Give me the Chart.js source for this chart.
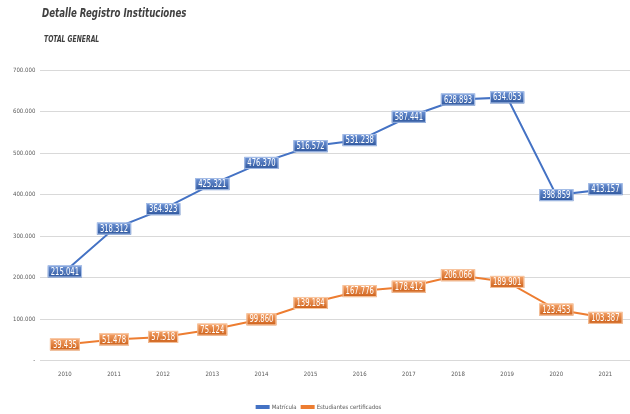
<!DOCTYPE html>
<html>
<head>
<meta charset="utf-8">
<script src="https://cdn.jsdelivr.net/npm/chart.js@4/dist/chart.umd.min.js"></script>
<style>
  html, body { margin: 0; padding: 0; background: #fff; }
  #wrap { width: 630px; height: 414px; position: relative; }
</style>
</head>
<body>
<div id="wrap"><canvas id="c"></canvas></div>
<script>
const years = ['2010','2011','2012','2013','2014','2015','2016','2017','2018','2019','2020','2021'];
const matricula = [215041, 318312, 364923, 425321, 476370, 516572, 531238, 587441, 628893, 634053, 398859, 413157];
const certificados = [39435, 51478, 57518, 75124, 99860, 139184, 167776, 178412, 206066, 189901, 123453, 103387];
const titleText = 'Detalle Registro Instituciones';
const subtitleText = 'TOTAL GENERAL';

const narrow = '"DejaVu Sans Condensed", "Liberation Sans Narrow", "Liberation Sans", sans-serif';

function fmt(v) {
  if (v === 0) return '-';
  return String(Math.round(v)).replace(/\B(?=(\d{3})+(?!\d))/g, '.');
}

// draw text squeezed horizontally (the original uses a narrow face)
function squeezed(ctx, txt, x, y, sx) {
  ctx.save();
  ctx.translate(x, y);
  ctx.scale(sx, 1);
  ctx.fillText(txt, 0, 0);
  ctx.restore();
}

// titles top-left
const titles = {
  id: 'titles',
  afterDraw(chart) {
    const ctx = chart.ctx;
    ctx.save();
    ctx.fillStyle = '#404040';
    ctx.textBaseline = 'middle';
    ctx.font = 'italic bold 12px ' + narrow;
    squeezed(ctx, titleText, 42, 14, 0.8);
    ctx.font = 'italic bold 9px ' + narrow;
    squeezed(ctx, subtitleText, 44, 40, 0.75);
    ctx.restore();
  }
};

// boxed data labels centred on each point
const boxLabels = {
  id: 'boxLabels',
  afterDatasetsDraw(chart) {
    const ctx = chart.ctx;
    const sx = 0.76;
    ctx.save();
    ctx.font = '10px ' + narrow;
    ctx.textAlign = 'center';
    ctx.textBaseline = 'middle';
    chart.data.datasets.forEach((ds, i) => {
      const meta = chart.getDatasetMeta(i);
      meta.data.forEach((pt, j) => {
        const txt = fmt(ds.data[j]);
        const w = ctx.measureText(txt).width * sx + 6;
        const h = 12;
        const x = pt.x - w / 2, y = pt.y - h / 2;
        const g = ctx.createLinearGradient(0, y, 0, y + h);
        g.addColorStop(0, ds.boxTop);
        g.addColorStop(1, ds.boxBottom);
        ctx.fillStyle = g;
        ctx.fillRect(x, y, w, h);
        ctx.strokeStyle = ds.boxEdge;
        ctx.lineWidth = 1;
        ctx.strokeRect(x + 0.5, y + 0.5, w - 1, h - 1);
        ctx.fillStyle = '#ffffff';
        squeezed(ctx, txt, pt.x, pt.y + 0.5, sx);
      });
    });
    ctx.restore();
  }
};

new Chart(document.getElementById('c'), {
  type: 'line',
  data: {
    labels: years,
    datasets: [
      {
        label: 'Matrícula',
        data: matricula,
        borderColor: '#4472C4',
        backgroundColor: '#4472C4',
        borderWidth: 2,
        pointRadius: 0,
        tension: 0,
        boxTop: '#6d93d6',
        boxBottom: '#2e569c',
        boxEdge: '#a9c0e8'
      },
      {
        label: 'Estudiantes certificados',
        data: certificados,
        borderColor: '#ED7D31',
        backgroundColor: '#ED7D31',
        borderWidth: 2,
        pointRadius: 0,
        tension: 0,
        boxTop: '#f5a369',
        boxBottom: '#cc5f18',
        boxEdge: '#f8c8a4'
      }
    ]
  },
  options: {
    responsive: true,
    maintainAspectRatio: false,
    animation: false,
    layout: { padding: { top: 70, left: 8, right: 0, bottom: -6 } },
    plugins: {
      legend: {
        position: 'bottom',
        labels: {
          boxWidth: 12,
          boxHeight: 2,
          padding: 5,
          color: '#595959',
          font: { size: 6, family: narrow }
        }
      },
      tooltip: { enabled: false }
    },
    scales: {
      x: {
        offset: true,
        grid: { display: false },
        border: { display: false },
        afterFit(scale) { scale.height += 19; },
        ticks: {
          color: '#595959',
          font: { size: 6, family: narrow },
          maxRotation: 0,
          padding: 2
        }
      },
      y: {
        min: 0,
        max: 700000,
        ticks: {
          stepSize: 100000,
          color: '#595959',
          font: { size: 6, family: narrow },
          padding: 5,
          callback: v => fmt(v)
        },
        grid: { color: '#d9d9d9', lineWidth: 1, drawTicks: false },
        border: { display: false }
      }
    }
  },
  plugins: [titles, boxLabels]
});
</script>
</body>
</html>
